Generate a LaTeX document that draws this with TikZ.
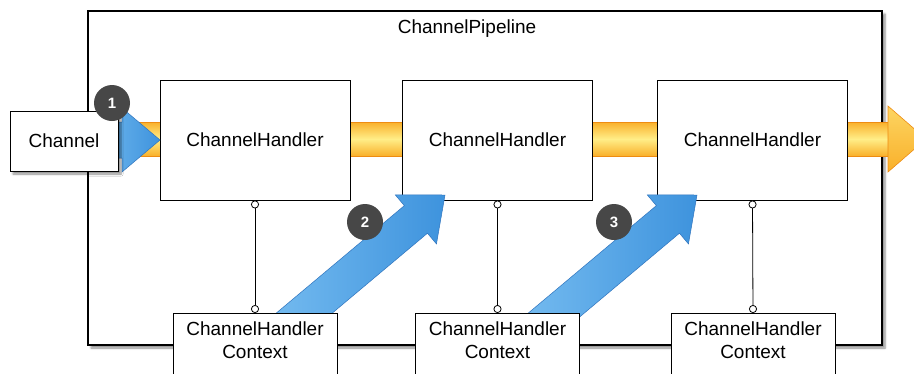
\documentclass[tikz,border=0pt]{standalone}
\usepackage{fontspec}
\setmainfont{Liberation Sans}
\usetikzlibrary{arrows.meta,shadows.blur}
\definecolor{bluea}{HTML}{7EC2F3}
\definecolor{blueb}{HTML}{3E93DD}
\definecolor{blueline}{HTML}{2F74BE}
\definecolor{yelA}{HTML}{F9B02A}
\definecolor{yelB}{HTML}{FFEE88}
\definecolor{yelline}{HTML}{EE8C12}
\definecolor{badgecol}{HTML}{474747}
\newcommand\bluearrow[3]{%
  \path[barrow, shift={#1}, rotate=#2] (0,0) -- (-38,-32) -- (-38,-18) -- (-#3,-18) -- (-#3,18) -- (-38,18) -- (-38,32) -- cycle;}
\begin{document}
\begin{tikzpicture}[x=1pt,y=-1pt,
  font=\fontsize{19}{23}\selectfont,
  box/.style={draw=black, line width=0.9pt, fill=white, rectangle, inner sep=0pt},
  handler/.style={box, minimum width=190pt, minimum height=120pt},
  ctxbox/.style={box, minimum width=164pt, anchor=north, align=center, inner ysep=8pt},
  conn/.style={line width=0.8pt, {Circle[open,length=8pt,width=8pt,fill=white]}-{Circle[open,length=8pt,width=8pt,fill=white]}},
  barrow/.style={draw=blueline, line width=0.5pt, left color=bluea, right color=blueb},
  bandshaft/.style={draw=yelline, line width=0.6pt, top color=yelA, bottom color=yelA, middle color=yelB},
  bandhead/.style={draw=yelline, line width=0.6pt, top color=yelB!60!yelA, bottom color=yelA},
  badge/.style={circle, fill=badgecol, minimum size=36pt, inner sep=0pt, text=white, font=\fontsize{15}{15}\selectfont\bfseries},
  shad/.style={blur shadow={shadow xshift=3pt, shadow yshift=-3pt, shadow blur steps=6, shadow opacity=45}}
]
\useasboundingbox (0,0) rectangle (914,373);
% pipeline frame
\node[box, shad, line width=1.1pt, minimum width=794pt, minimum height=334pt] (pipe) at (485,178) {};
\node (title) at (467,29) {ChannelPipeline};
% yellow band
\path[bandshaft] (110,122) rectangle (890,156);
\path[bandhead] (888,106) -- (926,139) -- (888,172) -- cycle;
% handlers
\node[handler] (h1) at (255,140) {ChannelHandler};
\node[handler] (h2) at (497.5,140) {ChannelHandler};
\node[handler] (h3) at (752.5,140) {ChannelHandler};
% blue diagonal arrows
\bluearrow{(445,195)}{40}{255}
\bluearrow{(697,195)}{40}{255}
% contexts
\node[ctxbox] (c1) at (255,313) {ChannelHandler\\Context\rule[-30pt]{0pt}{0pt}};
\node[ctxbox] (c2) at (497.5,313) {ChannelHandler\\Context\rule[-30pt]{0pt}{0pt}};
\node[ctxbox] (c3) at (753,313) {ChannelHandler\\Context\rule[-30pt]{0pt}{0pt}};
% connectors
\draw[conn] (h1.south) -- (c1.north);
\draw[conn] (h2.south) -- (c2.north);
\draw[conn] (h3.south) -- (c3.north);
% channel and first arrow
\bluearrow{(160,140)}{0}{80}
\node[box, shad, minimum width=108pt, minimum height=60pt] (ch) at (64,141) {Channel};
% badges
\node[badge] (n1) at (112,103) {1};
\node[badge] (n2) at (365,222) {2};
\node[badge] (n3) at (614,222) {3};
\end{tikzpicture}
\end{document}
